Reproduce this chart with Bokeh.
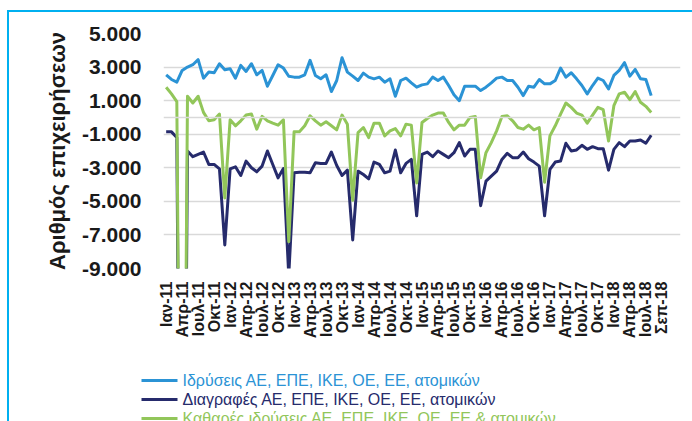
import math
from bokeh.plotting import figure
from bokeh.layouts import column
from bokeh.models import Range1d, FixedTicker, Span
from bokeh.core.properties import value
from bokeh.embed import file_html
from bokeh.resources import INLINE

# Monthly values, Jan 2011 - Aug 2018
founds = [2540, 2260, 2100, 2800, 3000, 3140, 3440, 2340, 2700, 2660, 3200, 2840,
          2900, 2340, 3100, 2740, 3200, 2540, 2800, 1860, 2500, 3140, 2940, 2450,
          2400, 2400, 2540, 3400, 2500, 2300, 2540, 1540, 2200, 3560, 2700, 2460,
          2200, 2640, 2400, 2300, 2400, 2100, 2300, 1260, 2200, 2340, 2060, 1800,
          1940, 2000, 2400, 2200, 2400, 1900, 1350, 1000, 1860, 1860, 1860, 1600,
          1800, 2060, 2340, 2400, 2200, 2200, 1800, 1300, 1860, 1800, 2260, 2000,
          2000, 2200, 2940, 2400, 2660, 2300, 1900, 1400, 1900, 2340, 2200, 1700,
          2500, 2800, 3260, 2460, 2860, 2300, 2260, 1300]
deletions = [-860, -860, -1200, -43000, -2000, -2340, -2200, -2060, -2800, -2800, -3060, -7600,
             -3060, -2940, -3460, -2600, -3000, -3240, -2900, -2000, -2800, -3600, -3040, -9400,
             -3300, -3260, -3260, -3300, -2700, -2740, -2740, -2060, -2860, -3460, -3140, -7300,
             -3200, -3400, -3660, -2660, -2800, -3300, -3200, -1940, -3300, -2740, -2500, -5860,
             -2200, -2060, -2340, -2000, -2200, -2400, -2100, -1500, -2300, -1900, -1900, -5260,
             -3800, -3500, -3200, -2500, -2140, -2400, -2400, -2060, -2460, -2660, -2900, -5860,
             -3100, -2660, -2600, -1540, -2000, -1940, -1660, -1900, -1740, -1860, -1860, -3140,
             -1900, -1500, -1740, -1400, -1400, -1340, -1540, -1060]
net = [1800, 1400, 940, -40000, 1260, 860, 1260, 300, -200, -140, 200, -4800,
       -140, -500, -200, 140, 200, -700, 60, -200, -340, -460, -140, -7400,
       -860, -860, -500, 100, -200, -460, -260, -500, -740, 140, -400, -4940,
       -900, -600, -1200, -340, -340, -1100, -800, -660, -1100, -400, -460, -3900,
       -300, -60, 140, 260, 260, -300, -740, -460, -460, 0, 60, -3600,
       -2100, -1500, -800, 60, 100, -200, -600, -700, -460, -740, -600, -3860,
       -1100, -500, 200, 860, 600, 260, 140, -340, 140, 600, 460, -1400,
       700, 1400, 1500, 1060, 1540, 900, 660, 300]
months = list(range(len(founds)))

tick_labels = ["Ιαν-11", "Απρ-11", "Ιουλ-11", "Οκτ-11", "Ιαν-12", "Απρ-12", "Ιουλ-12", "Οκτ-12",
               "Ιαν-13", "Απρ-13", "Ιουλ-13", "Οκτ-13", "Ιαν-14", "Απρ-14", "Ιουλ-14", "Οκτ-14",
               "Ιαν-15", "Απρ-15", "Ιουλ-15", "Οκτ-15", "Ιαν-16", "Απρ-16", "Ιουλ-16", "Οκτ-16",
               "Ιαν-17", "Απρ-17", "Ιουλ-17", "Οκτ-17", "Ιαν-18", "Απρ-18", "Ιουλ-18", "Σεπ-18"]
tick_months = [3 * k for k in range(len(tick_labels))]
y_ticks = [-9000, -7000, -5000, -3000, -1000, 1000, 3000, 5000]

series_names = ["Ιδρύσεις ΑΕ, ΕΠΕ, ΙΚΕ, ΟΕ, ΕΕ, ατομικών",
                "Διαγραφές ΑΕ, ΕΠΕ, ΙΚΕ, ΟΕ, ΕΕ, ατομικών",
                "Καθαρές ιδρύσεις ΑΕ, ΕΠΕ, ΙΚΕ, ΟΕ, ΕΕ & ατομικών"]
colors = ["#2B93D5", "#262B6C", "#92C65A"]
FONT = "Liberation Sans"
W = 692
H_MAIN = 360
H_LEG = 61

p = figure(width=W, height=H_MAIN, output_backend="svg", toolbar_location=None,
           x_range=Range1d(-0.5, 96.5), y_range=Range1d(-9000, 5000),
           min_border_left=163, min_border_top=33, min_border_right=12,
           min_border_bottom=92)
p.frame_align = False
p.outline_line_color = None
p.background_fill_color = "white"
p.border_fill_alpha = 0

p.xgrid.grid_line_color = None
p.ygrid.grid_line_color = "#D9D9D9"
p.ygrid.grid_line_width = 1.5
p.add_layout(Span(location=0, dimension="width", line_color="#D9D9D9", line_width=1.5))

p.yaxis.ticker = FixedTicker(ticks=y_ticks)
p.yaxis.major_label_overrides = {v: f"{v:,}".replace(",", ".") for v in y_ticks}
p.yaxis.axis_line_color = None
p.yaxis.major_tick_line_color = None
p.yaxis.minor_tick_line_color = None
p.yaxis.major_tick_out = 0
p.yaxis.major_label_standoff = 22
p.yaxis.major_label_text_font = FONT
p.yaxis.major_label_text_font_style = "bold"
p.yaxis.major_label_text_font_size = "21px"
p.yaxis.major_label_text_color = "#1a1a1a"
p.yaxis.axis_label = "Αριθμός επιχειρήσεων"
p.yaxis.axis_label_standoff = 9
p.yaxis.axis_label_text_font = FONT
p.yaxis.axis_label_text_font_style = "bold"
p.yaxis.axis_label_text_font_size = "22px"
p.yaxis.axis_label_text_color = "#1a1a1a"

p.xaxis.ticker = FixedTicker(ticks=tick_months)
p.xaxis.major_label_overrides = dict(zip(tick_months, tick_labels))
p.xaxis.major_label_orientation = math.pi / 2
p.xaxis.axis_line_color = None
p.xaxis.major_tick_line_color = None
p.xaxis.minor_tick_line_color = None
p.xaxis.major_tick_out = 0
p.xaxis.major_label_standoff = 13
p.xaxis.major_label_text_font = FONT
p.xaxis.major_label_text_font_style = "bold"
p.xaxis.major_label_text_font_size = "16px"
p.xaxis.major_label_text_color = "#1a1a1a"

for vals, col in zip([founds, deletions, net], colors):
    p.line(months, vals, line_color=col, line_width=3, line_join="round")

# Legend panel (pixel coordinates, y downward)
q = figure(width=W, height=H_LEG, output_backend="svg", toolbar_location=None,
           x_range=Range1d(0, W), y_range=Range1d(H_LEG, 0),
           x_axis_type=None, y_axis_type=None,
           min_border=0, min_border_left=0, min_border_right=0,
           min_border_top=0, min_border_bottom=0)
q.frame_align = False
q.outline_line_color = None
q.grid.grid_line_color = None
q.background_fill_alpha = 0
q.border_fill_alpha = 0
row_y = [20, 39, 58]
for name, col, yy in zip(series_names, colors, row_y):
    q.line([141, 177], [yy, yy], line_color=col, line_width=3)
    q.text(x=[182], y=[yy], text=[name], text_baseline="middle", text_align="left",
           text_color=col, text_font=value(FONT), text_font_size="16px")

layout = column(p, q, spacing=0,
                styles={"box-shadow": "inset 7px 0 0 0 white, inset 0 10px 0 0 white, "
                                      "inset 9px 0 0 0 #00B0F0, inset 0 12px 0 0 #00B0F0"})

open("out.html", "w").write(file_html(layout, INLINE))
